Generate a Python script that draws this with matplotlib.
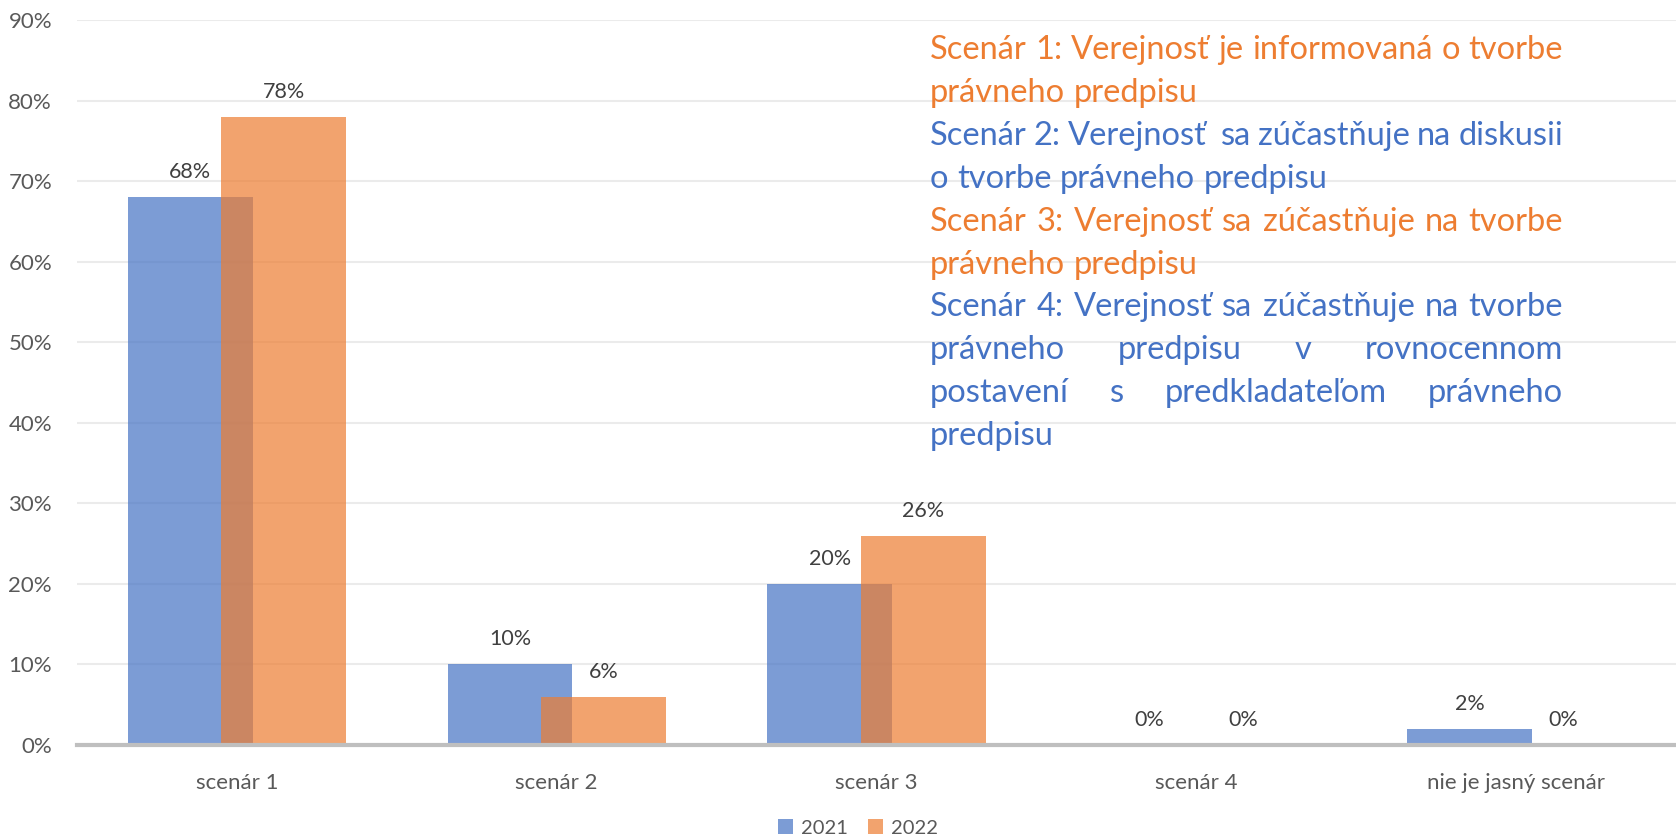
import numpy as np
import matplotlib
matplotlib.use("Agg")
import matplotlib.pyplot as plt
from matplotlib.patches import Patch

plt.rcParams["font.family"] = ["Lato", "DejaVu Sans"]

categories = ["scenár 1", "scenár 2", "scenár 3", "scenár 4", "nie je jasný scenár"]
years = ["2021", "2022"]
values_2021 = [68, 10, 20, 0, 2]
values_2022 = [78, 6, 26, 0, 0]
y_ticks = [0, 10, 20, 30, 40, 50, 60, 70, 80, 90]

# scenario description lines: (text, colour key, justified?)
notes = [
    ("Scenár 1: Verejnosť je informovaná o tvorbe", "orange", True),
    ("právneho predpisu", "orange", False),
    ("Scenár 2: Verejnosť  sa zúčastňuje na diskusii", "blue", True),
    ("o tvorbe právneho predpisu", "blue", False),
    ("Scenár 3: Verejnosť sa zúčastňuje na tvorbe", "orange", True),
    ("právneho predpisu", "orange", False),
    ("Scenár 4: Verejnosť sa zúčastňuje na tvorbe", "blue", True),
    ("právneho predpisu v rovnocennom", "blue", True),
    ("postavení s predkladateľom právneho", "blue", True),
    ("predpisu", "blue", False),
]

BLUE = "#4472C4"
ORANGE = "#ED7D31"
GREY = "#595959"
W, H = 1676, 839

fig = plt.figure(figsize=(W / 100, H / 100), dpi=100)
ax = fig.add_axes([77 / W, 1 - 745 / H, 1 - 77 / W, (745 - 20) / H])

x = np.arange(len(categories))
offset = 0.146
width = 0.39

b1 = ax.bar(x - offset, values_2021, width, color=BLUE, alpha=0.7, linewidth=0, zorder=2)
b2 = ax.bar(x + offset, values_2022, width, color=ORANGE, alpha=0.7, linewidth=0, zorder=3)

for bars in (b1, b2):
    for rect in bars:
        h = rect.get_height()
        ax.annotate(f"{h:.0f}%", (rect.get_x() + rect.get_width() / 2, h),
                    xytext=(0, 18), textcoords="offset points",
                    ha="center", va="center", fontsize=15.5, color="#404040")

ax.set_xlim(-0.5, len(categories) - 0.5)
ax.set_ylim(0, 90)
ax.set_yticks(y_ticks)
ax.set_yticklabels([f"{t}%" for t in y_ticks])
ax.set_xticks(x)
ax.set_xticklabels(categories)
ax.tick_params(axis="y", length=0, pad=18, labelsize=16, labelcolor=GREY)
ax.tick_params(axis="x", length=0, pad=20, labelsize=16, labelcolor=GREY)

ax.grid(axis="y", color="#EBEBEB", linewidth=1.5, zorder=0)
ax.set_axisbelow(True)
for side in ("top", "right", "left"):
    ax.spines[side].set_visible(False)
ax.spines["bottom"].set_color("#BFBFBF")
ax.spines["bottom"].set_linewidth(3)
ax.spines["bottom"].set_zorder(4)

handles = [Patch(color=BLUE, alpha=0.7, linewidth=0), Patch(color=ORANGE, alpha=0.7, linewidth=0)]
fig.legend(handles, years, loc="center", bbox_to_anchor=(858 / W, 1 - 828 / H),
           ncol=2, frameon=False, fontsize=14.5, labelcolor=GREY,
           handlelength=0.75, handleheight=0.75, handletextpad=0.4, columnspacing=1.0)

# justified text block on the right
fig.canvas.draw()
renderer = fig.canvas.get_renderer()
left, right = 930, 1563
y0, step = 50, 42.9
size = 23.5


def text_width(s):
    t = fig.text(0, 0, s, fontsize=size)
    w = t.get_window_extent(renderer).width
    t.remove()
    return w


space = text_width("x x") - text_width("xx")

for i, (line, key, justify) in enumerate(notes):
    color = ORANGE if key == "orange" else BLUE
    y = 1 - (y0 + i * step) / H
    words = line.split(" ")
    texts = [fig.text(0, y, wd, fontsize=size, color=color, va="center", ha="left") for wd in words]
    widths = [t.get_window_extent(renderer).width for t in texts]
    if justify and len(words) > 1:
        gap = (right - left - sum(widths)) / (len(words) - 1)
    else:
        gap = space
    pos = left
    for t, w in zip(texts, widths):
        t.set_x(pos / W)
        pos += w + gap

fig.savefig("out.png", dpi=100)
